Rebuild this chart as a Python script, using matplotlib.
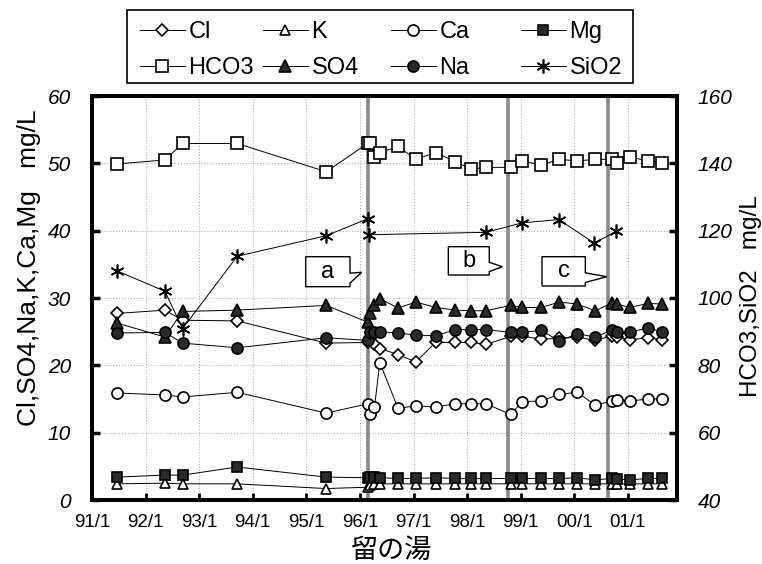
import numpy as np
import matplotlib.pyplot as plt
from matplotlib.patches import Rectangle, Polygon

plt.rcParams['font.family'] = ['Liberation Sans', 'DejaVu Sans']

# sampling dates as decimal years
early = [1991.46, 1992.36, 1992.69, 1993.71, 1995.37]
late = [1996.15, 1996.19, 1996.27, 1996.37, 1996.71, 1997.04, 1997.41, 1997.78,
        1998.07, 1998.35, 1998.81, 1999.03, 1999.38, 1999.72, 2000.05, 2000.39,
        2000.71, 2000.79, 2001.03, 2001.38, 2001.63]
dates = early + late

# left axis  (mg/L)
cl = [27.7, 28.2, 26.7, 26.6, 23.3,
      23.4, 24.0, 23.2, 22.5, 21.6, 20.5, 23.4, 23.4, 23.4, 23.1, 24.3,
      24.3, 23.9, 24.0, 24.2, 23.7, 24.4, 24.2, 23.8, 24.1, 23.8]
so4 = [26.3, 24.2, 28.0, 28.2, 28.9,
       26.4, 27.7, 28.9, 29.9, 28.5, 29.4, 28.6, 28.2, 28.1, 28.1, 28.9,
       28.6, 28.6, 29.4, 29.1, 28.1, 29.3, 29.1, 28.6, 29.2, 29.1]
na = [24.8, 24.9, 23.3, 22.6, 24.1,
      23.7, 24.9, 24.9, 25.0, 24.8, 24.5, 24.4, 25.3, 25.3, 25.3, 24.9,
      24.9, 25.2, 23.6, 24.7, 24.2, 25.3, 24.9, 24.9, 25.6, 24.9]
ca = [15.9, 15.6, 15.3, 16.0, 12.9,
      14.3, 12.8, 13.8, 20.4, 13.6, 14.0, 13.8, 14.3, 14.3, 14.3, 12.7,
      14.6, 14.7, 15.7, 16.0, 14.1, 14.7, 14.9, 14.7, 15.0, 15.0]
mg = [3.4, 3.7, 3.7, 4.9, 3.4,
      3.3, 3.4, 3.4, 3.3, 3.2, 3.2, 3.3, 3.2, 3.2, 3.2, 3.2,
      3.2, 3.2, 3.2, 3.3, 3.0, 3.2, 3.1, 3.0, 3.2, 3.2]
k = [2.4, 2.5, 2.4, 2.4, 1.7,
     1.9, 2.2, 2.4, 2.4, 2.4, 2.4, 2.4, 2.4, 2.4, 2.4, 2.4,
     2.4, 2.4, 2.4, 2.4, 2.4, 2.4, 2.4, 2.4, 2.4, 2.4]

# right axis (mg/L)
hco3 = [139.8, 141.0, 145.9, 145.9, 137.5,
        146.0, 146.0, 141.9, 143.2, 145.0, 141.2, 143.2, 140.5, 138.3, 138.8,
        138.8, 140.7, 139.5, 141.2, 140.7, 141.2, 141.2, 140.2, 141.9, 140.7, 140.2]
sio2_dates = early + [1996.14, 1996.16, 1998.35, 1999.02, 1999.71, 2000.37, 2000.78]
sio2 = [108.1, 102.0, 90.9, 112.4, 118.5,
        123.5, 118.8, 119.5, 122.3, 123.3, 116.3, 119.8]

events = [1996.14, 1998.76, 2000.63]
event_labels = ['a', 'b', 'c']
year_ticks = list(range(1991, 2002))
year_labels = ['91/1', '92/1', '93/1', '94/1', '95/1', '96/1',
               '97/1', '98/1', '99/1', '00/1', '01/1']

fig = plt.figure(figsize=(7.62, 5.64), dpi=100)
ax = fig.add_axes([92/762, 1-500/564, 585/762, 404/564])
ax2 = ax.twinx()

ax.set_xlim(1991, 1991 + 585/53.6)
ax.set_ylim(0, 60)
ax2.set_ylim(40, 160)

ax.grid(True, linestyle=':', color='#b0b0b0', linewidth=0.8)
ax.set_axisbelow(True)
for e in events:
    ax.axvline(e, color='#8a8a8a', linewidth=2.6, zorder=1.5)

def series(a, x, y, marker, ms, face, label):
    line, = a.plot(x, y, color='black', linewidth=0.7, marker=marker,
                   markersize=ms, markerfacecolor=face, markeredgecolor='black',
                   markeredgewidth=1.2, label=label, zorder=3)
    return line

h_cl = series(ax, dates, cl, 'D', 6.5, 'white', 'Cl')
h_k = series(ax, dates, k, '^', 7.5, 'white', 'K')
h_ca = series(ax, dates, ca, 'o', 8, 'white', 'Ca')
h_mg = series(ax, dates, mg, 's', 7.5, '#2a2a2a', 'Mg')
h_so4 = series(ax, dates, so4, '^', 8, '#2a2a2a', 'SO4')
h_na = series(ax, dates, na, 'o', 8, '#2a2a2a', 'Na')
h_hco3 = series(ax2, dates, hco3, 's', 8.5, 'white', 'HCO3')
h_sio2 = series(ax2, sio2_dates, sio2, (6, 2, 0), 10, 'black', 'SiO2')

ax.set_xticks(year_ticks)
ax.set_xticklabels(year_labels)
ax.set_yticks(range(0, 61, 10))
ax2.set_yticks(range(40, 161, 20))
ax.tick_params(axis='x', direction='in', length=5, width=2, pad=10, labelsize=13.5)
ax.tick_params(axis='y', direction='in', length=6, width=2.5, pad=15, labelsize=15)
ax2.tick_params(axis='y', direction='in', length=6, width=2.5, pad=15, labelsize=15)
for lbl in ax.get_yticklabels() + ax2.get_yticklabels():
    lbl.set_fontstyle('italic')
for a in (ax, ax2):
    for s in a.spines.values():
        s.set_linewidth(2.8)

fig.text(29/762, 1-268/564, 'Cl,SO4,Na,K,Ca,Mg   mg/L', rotation=90,
         fontsize=19, ha='center', va='center')
fig.text(751/762, 1-296/564, 'HCO3,SiO2   mg/L', rotation=90,
         fontsize=17.5, ha='center', va='center')
fig.text(392/762, 1-550/564, '留の湯', fontsize=19.5, ha='center', va='center',
         family=['Noto Sans CJK JP', 'DejaVu Sans'])

# callout boxes pointing at the event lines
boxes = [(0.3653, 0.4410, 0.6022, 0.5280, 0.4610, 0.5636),
         (0.6091, 0.6791, 0.6270, 0.5569, 0.7014, 0.5775),
         (0.7692, 0.8433, 0.6022, 0.5297, 0.8798, 0.5527)]
for (l, r, t, b, tx, ty), txt in zip(boxes, event_labels):
    hgt = t - b
    pts = [(l, t), (r, t), (r, t - 0.55*hgt), (tx, ty), (r, t - 0.88*hgt), (r, b), (l, b)]
    ax.add_patch(Polygon(pts, closed=True, transform=ax.transAxes,
                         facecolor='white', edgecolor='black', linewidth=1.0, zorder=5))
    ax.text((l + r)/2, (t + b)/2, txt, transform=ax.transAxes, fontsize=17,
            ha='center', va='center', zorder=6)

# legend: four columns of two rows inside one frame
fig.add_artist(Rectangle((127/762, 1-83/564), 506/762, 73/564, transform=fig.transFigure,
                         fill=False, edgecolor='black', linewidth=1.2))
cols = [(h_cl, h_hco3), (h_k, h_so4), (h_ca, h_na), (h_mg, h_sio2)]
col_x = [140, 263, 391, 521]
for hs, x0 in zip(cols, col_x):
    fig.legend(handles=list(hs), loc='upper left', bbox_to_anchor=(x0/762, 1-21/564),
               frameon=False, fontsize=17, handlelength=1.9, handletextpad=0.15,
               borderpad=0, borderaxespad=0, labelspacing=0.6)

fig.savefig('out.png', dpi=100)
